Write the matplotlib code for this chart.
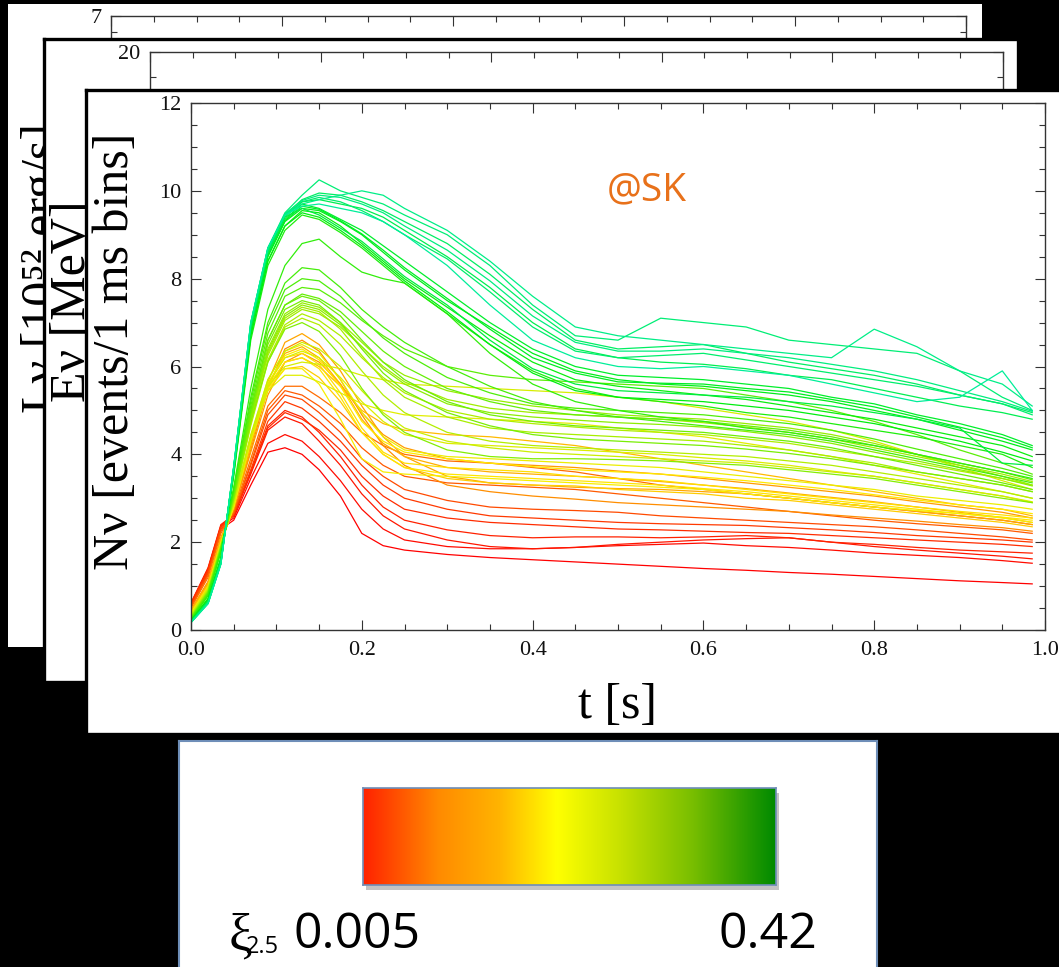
import matplotlib
matplotlib.use("Agg")
import matplotlib.pyplot as plt
import numpy as np
from matplotlib.colors import LinearSegmentedColormap, Normalize
from matplotlib.patches import Rectangle
from matplotlib.ticker import MultipleLocator

# ---- data ----
t = [0.000, 0.020, 0.035, 0.050, 0.070, 0.090, 0.110, 0.130, 0.150, 0.175,
     0.200, 0.225, 0.250, 0.300, 0.350, 0.400, 0.450, 0.500, 0.550, 0.600,
     0.650, 0.700, 0.750, 0.800, 0.850, 0.900, 0.950, 0.985]

xi_min, xi_max = 0.005, 0.42

# red (low compactness)
r1 = [0.55,1.30,2.30,2.50,3.30,4.05,4.15,4.00,3.65,3.05,2.20,1.92,1.82,1.72,1.65,1.60,1.55,1.50,1.45,1.40,1.36,1.31,1.27,1.22,1.17,1.12,1.08,1.05]
r2 = [0.58,1.35,2.35,2.55,3.45,4.25,4.45,4.30,3.95,3.40,2.75,2.30,2.05,1.90,1.85,1.85,1.88,1.92,1.95,1.98,1.92,1.88,1.82,1.75,1.70,1.65,1.58,1.52]
r3 = [0.60,1.40,2.38,2.60,3.55,4.55,4.85,4.70,4.30,3.75,3.10,2.60,2.30,2.05,1.90,1.85,1.88,1.95,2.00,2.05,2.08,2.10,2.00,1.90,1.82,1.75,1.68,1.62]
r4 = [0.62,1.42,2.40,2.62,3.60,4.65,5.00,4.85,4.50,3.95,3.30,2.80,2.50,2.28,2.15,2.10,2.12,2.12,2.10,2.12,2.15,2.10,2.00,1.95,1.88,1.82,1.78,1.75]
r5 = [0.60,1.38,2.35,2.60,3.60,4.60,4.95,4.80,4.55,4.10,3.50,3.05,2.75,2.55,2.45,2.40,2.35,2.30,2.28,2.25,2.22,2.20,2.15,2.10,2.05,2.00,1.95,1.90]
r6 = [0.58,1.35,2.35,2.62,3.65,4.75,5.20,5.05,4.75,4.30,3.75,3.30,3.00,2.75,2.60,2.55,2.50,2.45,2.42,2.40,2.38,2.33,2.28,2.22,2.15,2.10,2.05,2.00]
r7 = [0.55,1.30,2.30,2.65,3.75,4.90,5.35,5.25,4.95,4.50,3.90,3.50,3.20,2.95,2.80,2.75,2.72,2.68,2.60,2.55,2.50,2.45,2.40,2.35,2.28,2.20,2.12,2.05]
r8 = [0.52,1.25,2.25,2.65,3.80,5.00,5.45,5.35,5.10,4.70,4.15,3.75,3.50,3.35,3.30,3.25,3.20,3.10,3.00,2.90,2.80,2.70,2.60,2.50,2.42,2.35,2.28,2.20]
r9 = [0.50,1.20,2.20,2.70,3.90,5.10,5.55,5.55,5.30,4.95,4.50,4.20,4.00,3.85,3.80,3.70,3.60,3.45,3.30,3.20,3.10,3.00,2.90,2.80,2.70,2.60,2.50,2.40]
# orange
o1 = [0.45,1.10,2.10,2.75,4.10,5.50,6.40,6.60,6.35,5.70,4.90,4.20,3.75,3.30,3.15,3.05,2.98,2.90,2.85,2.80,2.75,2.70,2.62,2.55,2.48,2.40,2.33,2.25]
o5 = [0.45,1.10,2.10,2.75,4.05,5.35,6.10,6.30,6.10,5.60,4.95,4.45,4.15,3.90,3.80,3.75,3.70,3.62,3.55,3.45,3.35,3.25,3.15,3.05,2.92,2.80,2.68,2.55]
o2 = [0.44,1.08,2.08,2.78,4.20,5.65,6.55,6.75,6.50,5.90,5.10,4.40,3.95,3.50,3.35,3.30,3.25,3.22,3.20,3.15,3.10,3.00,2.90,2.80,2.70,2.60,2.50,2.40]
o6 = [0.43,1.06,2.06,2.78,4.20,5.55,6.30,6.45,6.20,5.60,4.80,4.25,3.95,3.70,3.60,3.55,3.50,3.45,3.38,3.30,3.22,3.12,3.02,2.92,2.80,2.68,2.56,2.45]
o3 = [0.42,1.05,2.05,2.80,4.25,5.50,6.10,6.20,6.00,5.55,5.00,4.70,4.55,4.45,4.40,4.30,4.20,4.05,3.90,3.75,3.60,3.45,3.30,3.15,3.00,2.85,2.75,2.60]
o4 = [0.40,1.00,2.00,2.80,4.30,5.45,5.95,6.00,5.75,5.20,4.50,4.00,3.70,3.45,3.35,3.30,3.28,3.20,3.15,3.10,3.00,2.95,2.85,2.75,2.65,2.55,2.45,2.35]
# yellow
y1 = [0.38,0.98,1.98,2.82,4.35,5.60,6.20,6.30,6.05,5.40,4.60,4.05,3.80,3.70,3.65,3.60,3.50,3.45,3.40,3.30,3.20,3.10,3.00,2.90,2.80,2.70,2.62,2.55]
y7 = [0.37,0.97,1.97,2.83,4.35,5.55,6.10,6.20,5.95,5.30,4.50,4.00,3.70,3.55,3.50,3.45,3.40,3.35,3.30,3.22,3.15,3.05,2.95,2.85,2.75,2.65,2.57,2.50]
y9 = [0.37,0.97,1.97,2.83,4.38,5.62,6.25,6.40,6.15,5.55,4.75,4.30,4.05,3.90,3.80,3.72,3.65,3.60,3.55,3.48,3.40,3.30,3.20,3.08,2.96,2.85,2.75,2.65]
y2 = [0.37,0.97,1.97,2.82,4.30,5.50,5.95,5.95,5.60,4.80,3.90,3.60,3.55,3.50,3.45,3.40,3.35,3.30,3.25,3.20,3.10,3.00,2.90,2.80,2.72,2.65,2.55,2.45]
y3 = [0.36,0.96,1.96,2.85,4.40,5.70,6.35,6.50,6.30,5.70,4.95,4.40,4.10,3.95,3.90,3.85,3.80,3.75,3.70,3.60,3.50,3.40,3.30,3.20,3.05,2.95,2.85,2.75]
y4 = [0.35,0.95,1.95,2.85,4.35,5.45,5.80,5.80,5.65,5.40,5.15,5.00,4.90,4.85,4.80,4.75,4.70,4.60,4.50,4.40,4.25,4.10,3.95,3.75,3.55,3.35,3.15,3.00]
y8 = [0.34,0.94,1.94,2.87,4.40,5.60,6.20,6.35,6.20,5.75,5.20,4.75,4.45,4.25,4.20,4.15,4.10,4.05,4.00,3.92,3.85,3.75,3.62,3.50,3.35,3.20,3.05,2.92]
y5 = [0.34,0.94,1.94,2.88,4.40,5.55,6.00,6.10,6.05,5.95,5.80,5.70,5.60,5.55,5.50,5.45,5.40,5.30,5.20,5.05,4.90,4.75,4.55,4.30,4.00,3.70,3.40,3.20]
y6 = [0.33,0.93,1.93,2.90,4.45,5.70,6.35,6.55,6.40,6.00,5.45,4.95,4.60,4.30,4.15,4.05,4.00,3.95,3.90,3.85,3.80,3.70,3.60,3.50,3.35,3.20,3.05,2.90]
# yellow-green
g1 = [0.30,0.90,1.90,2.95,4.65,6.10,6.90,7.10,6.95,6.50,5.90,5.35,4.95,4.50,4.30,4.20,4.15,4.10,4.05,4.00,3.95,3.85,3.75,3.60,3.45,3.30,3.15,3.00]
g9 = [0.30,0.90,1.90,2.95,4.70,6.15,6.95,7.20,7.05,6.70,6.20,5.75,5.40,5.00,4.80,4.70,4.62,4.55,4.50,4.45,4.35,4.25,4.10,3.95,3.80,3.62,3.45,3.30]
g2 = [0.29,0.88,1.88,3.00,4.80,6.30,7.10,7.35,7.25,6.85,6.25,5.70,5.30,4.85,4.60,4.50,4.45,4.40,4.35,4.30,4.20,4.10,3.95,3.80,3.60,3.45,3.30,3.15]
g10 = [0.29,0.88,1.88,3.00,4.80,6.25,7.05,7.30,7.20,6.90,6.45,6.00,5.65,5.25,5.05,4.95,4.90,4.85,4.80,4.72,4.62,4.50,4.35,4.15,3.95,3.75,3.55,3.38]
g3 = [0.28,0.86,1.86,3.05,4.90,6.40,7.20,7.45,7.35,7.00,6.55,6.10,5.80,5.45,5.25,5.10,5.00,4.90,4.85,4.80,4.70,4.60,4.45,4.25,4.00,3.75,3.50,3.30]
g13 = [0.28,0.86,1.86,3.05,4.85,6.35,7.15,7.40,7.30,6.95,6.45,5.95,5.60,5.15,4.95,4.85,4.78,4.72,4.68,4.62,4.52,4.40,4.25,4.05,3.85,3.65,3.45,3.28]
g4 = [0.28,0.87,1.87,3.00,4.75,6.10,6.85,7.00,6.80,6.25,5.50,4.90,4.50,4.10,3.95,3.90,3.90,3.88,3.85,3.80,3.75,3.65,3.55,3.45,3.30,3.15,3.00,2.90]
g11 = [0.27,0.85,1.85,3.05,4.90,6.50,7.30,7.50,7.40,7.00,6.40,5.85,5.45,4.95,4.65,4.45,4.35,4.30,4.25,4.20,4.12,4.02,3.90,3.75,3.60,3.45,3.30,3.15]
g5 = [0.26,0.84,1.84,3.10,5.00,6.60,7.40,7.60,7.50,7.15,6.60,6.10,5.70,5.20,4.90,4.75,4.65,4.60,4.55,4.50,4.40,4.30,4.15,3.95,3.75,3.55,3.35,3.20]
g12 = [0.26,0.84,1.84,3.10,5.00,6.60,7.40,7.65,7.55,7.25,6.80,6.35,6.00,5.50,5.20,5.00,4.90,4.85,4.80,4.75,4.65,4.55,4.40,4.20,4.00,3.80,3.60,3.42]
g6 = [0.25,0.82,1.82,3.15,5.10,6.75,7.60,7.80,7.75,7.45,7.05,6.70,6.40,6.00,5.80,5.70,5.65,5.60,5.55,5.50,5.35,5.20,5.00,4.75,4.45,4.10,3.80,3.55]
g14 = [0.25,0.81,1.81,3.18,5.20,6.90,7.75,8.00,7.95,7.60,7.10,6.65,6.30,5.75,5.40,5.15,5.05,5.00,4.95,4.90,4.80,4.70,4.55,4.35,4.12,3.90,3.68,3.50]
g7 = [0.24,0.80,1.80,3.20,5.30,7.00,7.90,8.25,8.20,7.80,7.30,6.90,6.55,6.00,5.55,5.20,5.00,4.85,4.75,4.65,4.55,4.45,4.30,4.10,3.90,3.70,3.50,3.35]
g8 = [0.23,0.78,1.78,3.25,5.50,7.30,8.30,8.80,8.90,8.50,8.15,8.00,7.90,7.20,6.30,5.60,5.20,5.00,4.85,4.75,4.60,4.50,4.35,4.20,4.00,3.80,3.60,3.45]
# green
G1 = [0.22,0.72,1.65,3.50,6.60,8.30,9.10,9.45,9.35,9.05,8.70,8.30,7.90,7.20,6.50,5.90,5.50,5.30,5.20,5.10,4.95,4.85,4.70,4.55,4.40,4.20,4.00,3.70]
G2 = [0.21,0.70,1.62,3.55,6.70,8.40,9.20,9.55,9.50,9.20,8.80,8.40,8.00,7.35,6.70,6.10,5.70,5.55,5.45,5.35,5.25,5.10,4.95,4.80,4.60,4.40,4.20,3.95]
G6 = [0.21,0.70,1.62,3.55,6.70,8.40,9.20,9.50,9.40,9.10,8.75,8.35,7.95,7.25,6.50,5.85,5.45,5.30,5.25,5.20,5.10,5.00,4.85,4.70,4.50,4.30,4.05,3.85]
G3 = [0.20,0.68,1.60,3.60,6.80,8.50,9.30,9.60,9.55,9.30,9.00,8.60,8.20,7.50,6.90,6.30,5.90,5.70,5.60,5.55,5.45,5.35,5.20,5.00,4.80,4.55,4.30,4.10]
G7 = [0.20,0.67,1.59,3.61,6.82,8.52,9.32,9.65,9.58,9.32,9.02,8.65,8.25,7.55,6.85,6.20,5.85,5.65,5.62,5.60,5.50,5.42,5.25,5.08,4.85,4.62,4.38,4.15]
G4 = [0.20,0.66,1.58,3.62,6.85,8.55,9.35,9.70,9.60,9.35,9.10,8.75,8.40,7.70,7.00,6.40,6.00,5.80,5.75,5.70,5.60,5.50,5.30,5.15,4.90,4.70,4.45,4.20]
G5 = [0.19,0.65,1.56,3.65,6.90,8.60,9.40,9.60,9.45,9.15,8.85,8.45,8.05,7.40,6.60,5.95,5.60,5.45,5.40,5.35,5.30,5.20,5.10,4.95,4.80,4.60,3.80,3.75]
# spring green (most compact)
S1 = [0.19,0.64,1.55,3.65,6.90,8.60,9.40,9.75,9.80,9.70,9.60,9.40,9.10,8.50,7.80,7.00,6.40,6.20,6.10,6.05,5.95,5.80,5.70,5.50,5.30,5.10,4.95,4.80]
S2 = [0.18,0.63,1.53,3.68,6.95,8.65,9.45,9.80,9.95,9.90,9.75,9.55,9.30,8.80,8.10,7.30,6.60,6.40,6.45,6.50,6.30,6.10,5.95,5.80,5.60,5.35,5.15,4.95]
S6 = [0.18,0.62,1.52,3.70,6.95,8.65,9.45,9.75,9.85,9.75,9.55,9.30,9.00,8.45,7.70,6.90,6.35,6.20,6.25,6.30,6.15,6.00,5.85,5.70,5.55,5.35,5.15,4.90]
S3 = [0.18,0.62,1.52,3.70,7.00,8.70,9.50,9.90,10.25,10.00,9.85,9.70,9.45,9.00,8.30,7.40,6.70,6.60,7.10,7.00,6.90,6.60,6.50,6.40,6.30,5.90,5.30,5.00]
S7 = [0.17,0.61,1.51,3.71,6.98,8.68,9.48,9.78,9.90,9.85,9.70,9.50,9.20,8.65,7.95,7.15,6.55,6.35,6.35,6.40,6.30,6.20,6.05,5.90,5.70,5.45,5.20,4.98]
S4 = [0.17,0.60,1.50,3.72,7.00,8.70,9.45,9.70,9.80,9.90,10.00,9.90,9.60,9.10,8.40,7.60,6.90,6.70,6.60,6.50,6.40,6.30,6.20,6.85,6.45,5.90,5.60,5.10]
S5 = [0.17,0.60,1.50,3.72,7.00,8.70,9.45,9.65,9.70,9.60,9.50,9.30,9.00,8.30,7.40,6.60,6.20,6.00,5.95,6.00,5.90,5.80,5.60,5.40,5.20,5.30,5.90,5.00]

curves = [r1, r2, r3, r4, r5, r6, r7, r8, r9, o1, o5, o2, o6, o3, o4,
          y1, y7, y9, y2, y3, y4, y8, y5, y6,
          g1, g9, g2, g10, g3, g13, g4, g11, g5, g12, g6, g14, g7, g8,
          G1, G2, G6, G3, G7, G4, G5, S1, S2, S6, S3, S7, S4, S5]
xi = [0.005, 0.012, 0.018, 0.025, 0.032, 0.040, 0.050, 0.060, 0.070, 0.090, 0.100, 0.110, 0.120, 0.130, 0.150,
      0.170, 0.175, 0.180, 0.190, 0.200, 0.210, 0.215, 0.220, 0.230,
      0.250, 0.255, 0.260, 0.265, 0.270, 0.275, 0.280, 0.285, 0.290, 0.295, 0.300, 0.305, 0.310, 0.320,
      0.330, 0.340, 0.345, 0.350, 0.355, 0.360, 0.370, 0.380, 0.390, 0.395, 0.400, 0.405, 0.410, 0.420]

# ---- figure ----
serif = ["Liberation Serif", "DejaVu Serif"]
sans = ["Open Sans", "DejaVu Sans"]
plt.rcParams["font.family"] = serif

W, H = 1059, 967
fig = plt.figure(figsize=(W / 100, H / 100), dpi=100, facecolor="black")


def box(x0, y0, x1, y1):
    # pixel box (top-left origin) -> figure fraction rect
    return [x0 / W, 1 - y1 / H, (x1 - x0) / W, (y1 - y0) / H]


def frame(x0, y0, x1, y1, z, lw=2.4, ec="black"):
    a = fig.add_axes(box(x0, y0, x1, y1), zorder=z)
    a.set_xticks([])
    a.set_yticks([])
    a.set_facecolor("white")
    for s in a.spines.values():
        s.set_color(ec)
        s.set_linewidth(lw)
    return a


def style(a, ymax, ymaj, ymin):
    a.set_xlim(0, 1)
    a.set_ylim(0, ymax)
    a.set_facecolor("none")
    a.xaxis.set_major_locator(MultipleLocator(0.2))
    a.xaxis.set_minor_locator(MultipleLocator(0.05))
    a.yaxis.set_major_locator(MultipleLocator(ymaj))
    a.yaxis.set_minor_locator(MultipleLocator(ymin))
    a.tick_params(which="both", direction="in", top=True, right=True,
                  width=0.8, color="#333333")
    a.tick_params(which="major", length=7, labelsize=16, labelcolor="#111111")
    a.tick_params(which="minor", length=4.5)
    a.tick_params(axis="x", pad=8)
    a.tick_params(axis="y", pad=7)
    for s in a.spines.values():
        s.set_color("#333333")
        s.set_linewidth(1.0)


def ylab(x, y, s, z):
    fig.text(x / W, 1 - y / H, s, rotation=90, rotation_mode="anchor",
             ha="center", va="baseline", fontsize=36, family=serif, zorder=z)


# back panel: luminosity
frame(8, 4, 982, 647, 1, lw=0)
p1 = fig.add_axes(box(111, 16, 966, 560), zorder=1.5)
style(p1, 7, 1, 0.2)
ylab(56, 268, "Lν [10⁵² erg/s]", 1.6)

# middle panel: mean energy
frame(43.5, 38.5, 1018, 682, 2)
p2 = fig.add_axes(box(150, 52, 1003, 550), zorder=2.5)
style(p2, 20, 5, 1)
ylab(85, 301, "Eν [MeV]", 2.6)

# front panel: event rate at SK
frame(85.5, 89.5, 1080, 734, 3)
ax = fig.add_axes(box(191, 103, 1045, 630), zorder=3.5)
style(ax, 12, 2, 0.5)
ylab(128, 351, "Nν [events/1 ms bins]", 3.6)
fig.text(617 / W, 1 - 706 / H, "t [s]", ha="center", va="center",
         fontsize=36, family=serif, zorder=3.6)

line_cmap = LinearSegmentedColormap.from_list(
    "xi_lines",
    [(0.0, "#ff0000"), (0.22, "#ff9900"), (0.43, "#ffee00"),
     (0.62, "#a6ee00"), (0.82, "#00ee10"), (1.0, "#00ee99")])
norm = Normalize(xi_min, xi_max)
for y, v in zip(curves, xi):
    ax.plot(t, y, color=line_cmap(norm(v)), lw=0.9)

ax.text(0.534, 0.835, "@SK", transform=ax.transAxes, ha="center", va="center",
        fontsize=28, color="#e8711a", family=sans)

# colour-scale box
frame(178.5, 740.5, 877, 990, 4, lw=1.5, ec="#6e8eb8")
fig.patches.append(Rectangle((366 / W, 1 - 890 / H), (776 - 363) / W, (885 - 788) / H,
                             transform=fig.transFigure, facecolor="#888888",
                             alpha=0.5, edgecolor="none", zorder=4.4))
bar_cmap = LinearSegmentedColormap.from_list(
    "xi_bar",
    [(0.0, "#ff2200"), (0.18, "#ff8a00"), (0.33, "#ffb400"), (0.47, "#ffff00"),
     (0.62, "#c8e200"), (0.8, "#78be00"), (1.0, "#008a00")])
cb = fig.add_axes(box(363, 788, 776, 885), zorder=4.5)
cb.imshow(np.linspace(0, 1, 256)[None, :], aspect="auto", cmap=bar_cmap,
          extent=[0, 1, 0, 1])
cb.set_xticks([])
cb.set_yticks([])
for s in cb.spines.values():
    s.set_color("#6e8eb8")
    s.set_linewidth(1.2)

fig.text(240 / W, 1 - 936 / H, "ξ", ha="center", va="center",
         fontsize=38, family=serif, zorder=5)
fig.text(262 / W, 1 - 947 / H, "2.5", ha="center", va="center",
         fontsize=17, family=sans, zorder=5)
fig.text(357 / W, 1 - 935 / H, f"{xi_min:g}", ha="center", va="center",
         fontsize=36, family=sans, zorder=5)
fig.text(768 / W, 1 - 935 / H, f"{xi_max:g}", ha="center", va="center",
         fontsize=36, family=sans, zorder=5)

fig.savefig("out.png", dpi=100, facecolor="black")
